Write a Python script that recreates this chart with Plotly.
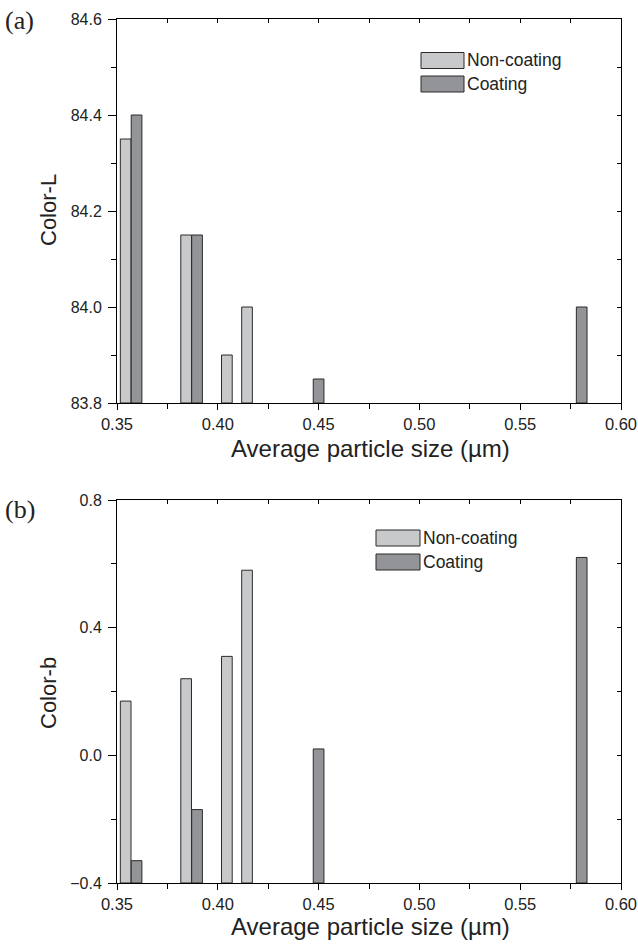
import plotly.graph_objects as go

# ---------------- data ----------------
series_names = ["Non-coating", "Coating"]
# bar positions (average particle size, µm)
x_noncoating = [0.3543, 0.3843, 0.4045, 0.4145]
x_coating = [0.3597, 0.3897, 0.4500, 0.5805]
# (a) Color-L
L_noncoating = [84.35, 84.15, 83.90, 84.00]
L_coating = [84.40, 84.15, 83.85, 84.00]
# (b) Color-b
b_noncoating = [0.17, 0.24, 0.31, 0.58]
b_coating = [-0.33, -0.17, 0.02, 0.62]

x_range = [0.35, 0.60]
L_range = [83.8, 84.6]
b_range = [-0.4, 0.8]

# ---------------- style ----------------
W, H = 638, 945
C_NON = "#c8c9cb"
C_COAT = "#939497"
EDGE = "#2b2b2b"
BAR_W = 0.0053
FONT = "Liberation Sans, Arial, sans-serif"
SERIF = "Liberation Serif, Times New Roman, serif"

def px_x(p):
    return p / W

def px_y(p):
    return 1 - p / H

xdom = [px_x(117), px_x(621)]
top_dom = [px_y(403), px_y(19)]
bot_dom = [px_y(883), px_y(500)]

fig = go.Figure()

def add_bars(xs, vals, base, color, name, xa, ya):
    fig.add_trace(go.Bar(
        x=xs, y=[v - base for v in vals], base=base, width=BAR_W,
        marker=dict(color=color, line=dict(color=EDGE, width=1)),
        name=name, showlegend=False, xaxis=xa, yaxis=ya,
    ))

add_bars(x_noncoating, L_noncoating, L_range[0], C_NON, series_names[0], "x", "y")
add_bars(x_coating, L_coating, L_range[0], C_COAT, series_names[1], "x", "y")
add_bars(x_noncoating, b_noncoating, b_range[0], C_NON, series_names[0], "x2", "y2")
add_bars(x_coating, b_coating, b_range[0], C_COAT, series_names[1], "x2", "y2")

# invisible traces for the mirrored tick axes
for xa, ya in [("x3", "y3"), ("x4", "y4")]:
    fig.add_trace(go.Scatter(x=[None], y=[None], xaxis=xa, yaxis=ya,
                             showlegend=False, hoverinfo="skip"))

tickfont_x = dict(family=FONT, size=16.5, color="#222")
tickfont_y = dict(family=FONT, size=16, color="#222")
common_x = dict(range=x_range, domain=xdom, dtick=0.05, tick0=0.35, tickformat=".2f",
                ticks="outside", ticklen=6, tickwidth=1, tickcolor="black",
                showline=True, linecolor="black", linewidth=1, mirror=True,
                showgrid=False, zeroline=False, tickfont=tickfont_x,
                minor=dict(dtick=0.025, tick0=0.35, ticks="outside", ticklen=5,
                           tickcolor="black", showgrid=False))
common_y = dict(ticks="outside", ticklen=8, tickwidth=1, tickcolor="black",
                showline=True, linecolor="black", linewidth=1, mirror=True,
                showgrid=False, zeroline=False, tickfont=tickfont_y, tickformat=".1f",
                ticklabelstandoff=3)

fig.update_layout(
    xaxis=dict(**common_x, anchor="y"),
    yaxis=dict(**common_y, range=L_range, domain=top_dom, dtick=0.2, anchor="x",
               minor=dict(dtick=0.1, ticks="outside", ticklen=5, tickcolor="black")),
    xaxis2=dict(**common_x, anchor="y2"),
    yaxis2=dict(**common_y, range=b_range, domain=bot_dom, dtick=0.4, tick0=0, anchor="x2",
                minor=dict(dtick=0.2, ticks="outside", ticklen=5, tickcolor="black")),
    # inward ticks on top / right
    xaxis3=dict(range=x_range, domain=xdom, overlaying="x", side="top", anchor="y3",
                dtick=0.025, tick0=0.35, ticks="inside", ticklen=4, tickcolor="black",
                showticklabels=False, showgrid=False, zeroline=False, showline=False),
    yaxis3=dict(range=L_range, domain=top_dom, overlaying="y", side="right", anchor="x3",
                dtick=0.1, ticks="inside", ticklen=4, tickcolor="black",
                showticklabels=False, showgrid=False, zeroline=False, showline=False),
    xaxis4=dict(range=x_range, domain=xdom, overlaying="x2", side="top", anchor="y4",
                dtick=0.025, tick0=0.35, ticks="inside", ticklen=4, tickcolor="black",
                showticklabels=False, showgrid=False, zeroline=False, showline=False),
    yaxis4=dict(range=b_range, domain=bot_dom, overlaying="y2", side="right", anchor="x4",
                dtick=0.2, ticks="inside", ticklen=4, tickcolor="black",
                showticklabels=False, showgrid=False, zeroline=False, showline=False),
    barmode="overlay",
    width=W, height=H,
    margin=dict(l=0, r=0, t=0, b=0, autoexpand=False),
    paper_bgcolor="white", plot_bgcolor="white",
    showlegend=False,
)

annotations = []
shapes = []

def text(x, y, s, size, family=FONT, xanchor="center", angle=0):
    annotations.append(dict(x=px_x(x), y=px_y(y), xref="paper", yref="paper",
                            text=s, showarrow=False, xanchor=xanchor, yanchor="middle",
                            textangle=angle, font=dict(family=family, size=size, color="#222")))

# panel labels
text(20, 20, "(a)", 26, SERIF)
text(20, 509, "(b)", 26, SERIF)
# axis titles
text(48, 210, "Color-L", 22, angle=-90)
text(48, 693, "Color-b", 22, angle=-90)
text(370, 448, "Average particle size (µm)", 24)
text(370, 926, "Average particle size (µm)", 24)

# manual legends
def legend(x0, y0, sw_w, sw_h, gap):
    for i, (nm, col) in enumerate(zip(series_names, [C_NON, C_COAT])):
        yt = y0 + i * gap
        shapes.append(dict(type="rect", xref="paper", yref="paper",
                           x0=px_x(x0), x1=px_x(x0 + sw_w),
                           y0=px_y(yt - sw_h / 2), y1=px_y(yt + sw_h / 2),
                           fillcolor=col, line=dict(color=EDGE, width=1)))
        text(x0 + sw_w + 1, yt, nm, 17.5, xanchor="left")

legend(421, 60.5, 43, 16, 23.5)
legend(376, 538, 44, 16, 24)

fig.update_layout(annotations=annotations, shapes=shapes)
fig.write_html("out.html")
